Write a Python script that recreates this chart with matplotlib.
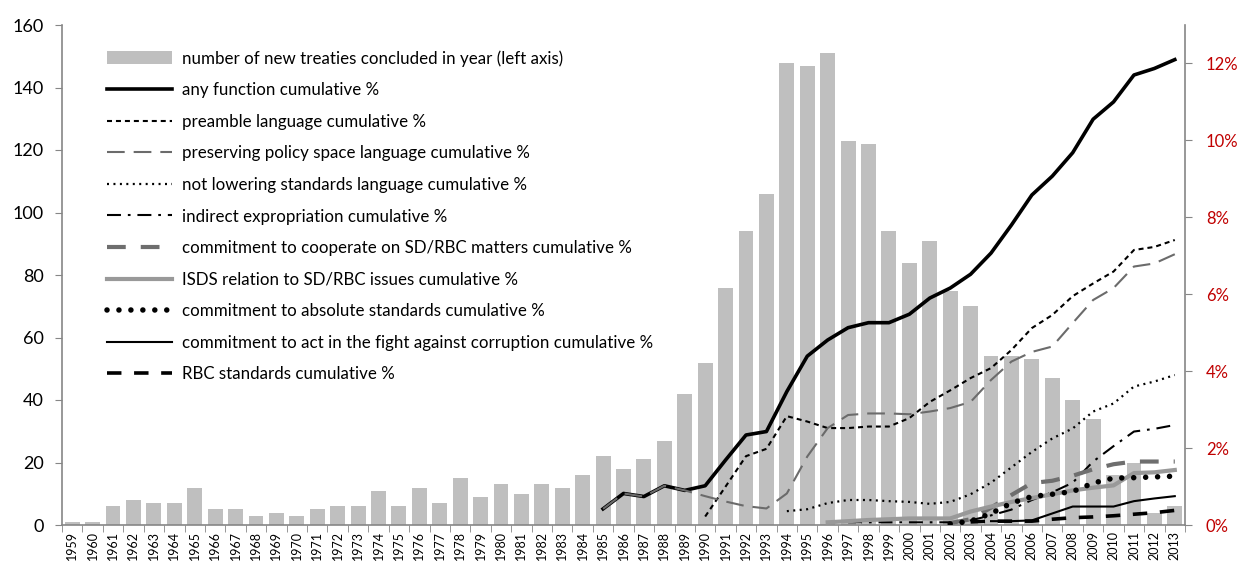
import numpy as np
import matplotlib
matplotlib.use("Agg")
import matplotlib.pyplot as plt
from matplotlib.patches import Patch
from matplotlib.lines import Line2D

plt.rcParams['font.family'] = ['Lato', 'DejaVu Sans']

years = list(range(1959, 2014))
new_treaties = [1, 1, 6, 8, 7, 7, 12, 5, 5, 3, 4, 3, 5, 6, 6, 11, 6, 12, 7, 15,
                9, 13, 10, 13, 12, 16, 22, 18, 21, 27, 42, 52, 76, 94, 106, 148, 147, 151, 123, 122,
                94, 84, 91, 75, 70, 54, 54, 53, 47, 40, 34, 16, 20, 4, 6]

# cumulative % series: (first year, values)
any_function_start = 1985
any_function = [0.42, 0.82, 0.74, 1.02, 0.9, 1.02, 1.69, 2.34, 2.43, 3.47, 4.39, 4.81, 5.13, 5.26, 5.26,
                5.48, 5.9, 6.16, 6.52, 7.07, 7.8, 8.58, 9.07, 9.68, 10.55, 11.0, 11.7, 11.87, 12.1]
preamble_start = 1990
preamble = [0.22, 1.0, 1.79, 1.98, 2.83, 2.69, 2.52, 2.52, 2.56, 2.56, 2.78, 3.2, 3.5, 3.82, 4.08,
            4.55, 5.12, 5.46, 5.95, 6.28, 6.59, 7.15, 7.23, 7.41]
policy_space_start = 1985
policy_space = [0.42, 0.82, 0.74, 1.02, 0.9, 0.75, 0.61, 0.49, 0.43, 0.82, 1.78, 2.52, 2.86, 2.9, 2.9,
                2.88, 2.95, 3.04, 3.2, 3.77, 4.25, 4.5, 4.64, 5.25, 5.85, 6.16, 6.72, 6.8, 7.04]
not_lowering_start = 1994
not_lowering = [0.36, 0.41, 0.57, 0.65, 0.65, 0.62, 0.6, 0.55, 0.6, 0.8, 1.1, 1.5, 1.9, 2.25, 2.51,
                2.95, 3.16, 3.6, 3.73, 3.9]
indirect_start = 1997
indirect = [0.07, 0.07, 0.07, 0.07, 0.07, 0.07, 0.12, 0.25, 0.4, 0.65, 0.85, 1.1, 1.65, 2.05, 2.43,
            2.5, 2.6]
cooperate_start = 2002
cooperate = [0.05, 0.15, 0.45, 0.78, 1.09, 1.15, 1.28, 1.45, 1.58, 1.65, 1.65, 1.65]
isds_start = 1996
isds = [0.07, 0.1, 0.13, 0.15, 0.17, 0.17, 0.17, 0.35, 0.48, 0.6, 0.7, 0.8, 0.9, 0.97, 1.03, 1.35,
        1.37, 1.43]
absolute_start = 2002
absolute = [0.03, 0.1, 0.3, 0.57, 0.74, 0.8, 0.87, 1.09, 1.22, 1.23, 1.25, 1.27]
corruption_start = 2004
corruption = [0.1, 0.1, 0.12, 0.3, 0.48, 0.48, 0.48, 0.62, 0.69, 0.75]
rbc_start = 2003
rbc = [0.08, 0.1, 0.1, 0.1, 0.15, 0.19, 0.21, 0.24, 0.28, 0.32, 0.38]

left_ticks = [0, 20, 40, 60, 80, 100, 120, 140, 160]
right_ticks = [0, 2, 4, 6, 8, 10, 12]

labels = ["number of new treaties concluded in year (left axis)",
          "any function cumulative %",
          "preamble language cumulative %",
          "preserving policy space language cumulative %",
          "not lowering standards language cumulative %",
          "indirect expropriation cumulative %",
          "commitment to cooperate on SD/RBC matters cumulative %",
          "ISDS relation to SD/RBC issues cumulative %",
          "commitment to absolute standards cumulative %",
          "commitment to act in the fight against corruption cumulative %",
          "RBC standards cumulative %"]

fig = plt.figure(figsize=(12.41, 5.69), dpi=100)
ax = fig.add_axes([62 / 1241, 1 - 525 / 569, (1185 - 62) / 1241, 500 / 569])
ax2 = ax.twinx()

x = np.arange(len(years))
bar_color = '#BFBFBF'
ax.bar(x, new_treaties, width=0.73, color=bar_color, zorder=2)

spine_c = '#868686'
ax.set_xlim(-0.5, len(years) - 0.5)
ax.set_ylim(0, 160)
ax.set_yticks(left_ticks)
ax.tick_params(axis='y', labelsize=13, length=5, color=spine_c, direction='out', pad=8)
ax.set_xticks(x)
ax.set_xticklabels([str(y) for y in years], rotation=90, fontsize=9)
ax.tick_params(axis='x', length=0, pad=4)
ax.set_xticks(np.arange(-0.5, len(years), 1.0), minor=True)
ax.tick_params(axis='x', which='minor', length=5, color=spine_c, direction='out')
for s in ['top', 'right']:
    ax.spines[s].set_visible(False)
for s in ['left', 'bottom']:
    ax.spines[s].set_color(spine_c)
    ax.spines[s].set_linewidth(1.2)

ax2.set_ylim(0, 13)
ax2.set_yticks(right_ticks)
ax2.set_yticklabels([f"{v}%" for v in right_ticks])
ax2.tick_params(axis='y', labelsize=12, labelcolor='#C00000', length=5, color=spine_c,
                direction='out', pad=10)
for s in ['top', 'left', 'bottom']:
    ax2.spines[s].set_visible(False)
ax2.spines['right'].set_color(spine_c)
ax2.spines['right'].set_linewidth(1.2)


def xs(start, vals):
    i0 = years.index(start)
    return x[i0:i0 + len(vals)]


styles = [
    (any_function_start, any_function, dict(color='black', lw=2.6, ls='-')),
    (preamble_start, preamble, dict(color='black', lw=1.5, dashes=(2.4, 1.9))),
    (policy_space_start, policy_space, dict(color='#6b6b6b', lw=1.5, dashes=(8.5, 4.3))),
    (not_lowering_start, not_lowering, dict(color='black', lw=1.6, dashes=(0.9, 2.0))),
    (indirect_start, indirect, dict(color='black', lw=1.5, dashes=(6.7, 3.3, 1.3, 3.3))),
    (cooperate_start, cooperate, dict(color='#6e6e6e', lw=3.0, dashes=(4.5, 3.6))),
    (isds_start, isds, dict(color='#999999', lw=3.0, ls='-')),
    (absolute_start, absolute, dict(color='black', lw=4.0, dashes=(0.001, 2.15),
                                    dash_capstyle='round')),
    (corruption_start, corruption, dict(color='black', lw=1.5, ls='-')),
    (rbc_start, rbc, dict(color='black', lw=2.6, dashes=(4.0, 3.5))),
]

handles = [Patch(facecolor=bar_color, edgecolor='none')]
for start, vals, st in styles:
    ln, = ax2.plot(xs(start, vals), vals, solid_joinstyle='round', zorder=3, **st)
    handles.append(Line2D([], [], **st))

leg = ax2.legend(handles, labels, loc='upper left',
                 bbox_to_anchor=((107 - 62) / 1123, (525 - 50) / 500),
                 frameon=False, fontsize=12.2, handlelength=3.85, handleheight=0.8,
                 handletextpad=0.55, labelspacing=0.92, borderpad=0, borderaxespad=0)

fig.savefig('out.png', dpi=100)
